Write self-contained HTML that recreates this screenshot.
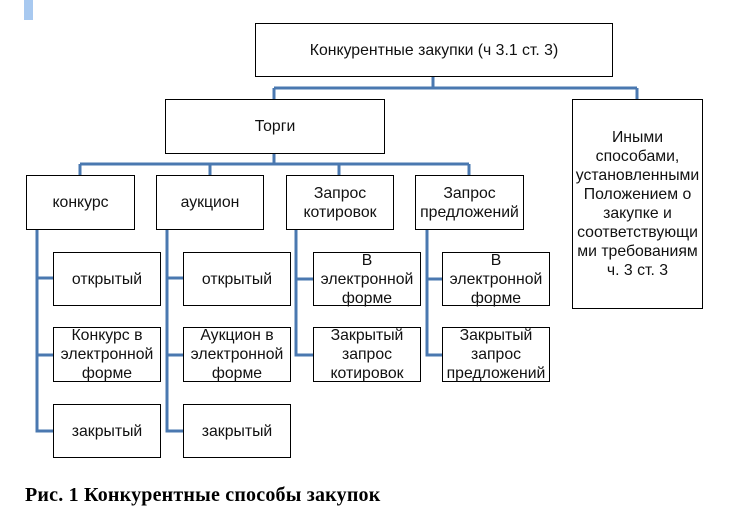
<!DOCTYPE html>
<html><head><meta charset="utf-8">
<style>
html,body{margin:0;padding:0;background:#fff;}
body{width:740px;height:510px;position:relative;overflow:hidden;font-family:"Liberation Sans","Noto Sans CJK SC",sans-serif;}
.b{position:absolute;box-sizing:border-box;border:1px solid #000;background:#fff;display:flex;align-items:center;justify-content:center;text-align:center;font-size:15.8px;line-height:19px;color:#111;white-space:nowrap;}
svg{position:absolute;left:0;top:0;}
.cap{position:absolute;left:25px;top:482px;font-family:"Liberation Serif",serif;font-weight:bold;font-size:20px;letter-spacing:0.2px;line-height:26px;color:#000;white-space:nowrap;}
</style></head><body>
<div style="position:absolute;left:24px;top:0;width:9px;height:20px;background:#a8c9f0;"></div>
<svg width="740" height="510">
<g stroke="#4a78b0" stroke-width="3" fill="none">
<path d="M433 76V88M274 88H637M274 88V99M637 88V99"/>
<path d="M274 153V164M80 164H469M80 164V175M210 164V175M339 164V175M469 164V175"/>
<path d="M37 229V431H53M37 278H53M37 355H53"/>
<path d="M167 229V431H183M167 278H183M167 355H183"/>
<path d="M296 229V355H313M296 279H313"/>
<path d="M427 229V355H442M427 279H442"/>
</g>
</svg>
<div class="b" style="left:255px;top:23px;width:358px;height:54px;">Конкурентные закупки (ч 3.1 ст. 3)</div>
<div class="b" style="left:165px;top:99px;width:220px;height:55px;">Торги</div>
<div class="b" style="left:572px;top:99px;width:131px;height:210px;">Иными<br>способами,<br>установленными<br>Положением о<br>закупке и<br>соответствующи<br>ми требованиям<br>ч. 3 ст. 3</div>

<div class="b" style="left:26px;top:175px;width:109px;height:55px;">конкурс</div>
<div class="b" style="left:156px;top:175px;width:108px;height:55px;">аукцион</div>
<div class="b" style="left:286px;top:175px;width:108px;height:55px;">Запрос<br>котировок</div>
<div class="b" style="left:415px;top:175px;width:109px;height:55px;">Запрос<br>предложений</div>

<div class="b" style="left:53px;top:252px;width:108px;height:54px;">открытый</div>
<div class="b" style="left:53px;top:327px;width:108px;height:55px;">Конкурс в<br>электронной<br>форме</div>
<div class="b" style="left:53px;top:404px;width:108px;height:54px;">закрытый</div>

<div class="b" style="left:183px;top:252px;width:108px;height:54px;">открытый</div>
<div class="b" style="left:183px;top:327px;width:108px;height:55px;">Аукцион в<br>электронной<br>форме</div>
<div class="b" style="left:183px;top:404px;width:108px;height:54px;">закрытый</div>

<div class="b" style="left:313px;top:252px;width:108px;height:54px;">В<br>электронной<br>форме</div>
<div class="b" style="left:313px;top:327px;width:108px;height:55px;">Закрытый<br>запрос<br>котировок</div>

<div class="b" style="left:442px;top:252px;width:108px;height:54px;">В<br>электронной<br>форме</div>
<div class="b" style="left:442px;top:327px;width:108px;height:55px;">Закрытый<br>запрос<br>предложений</div>

<div class="cap">Рис. 1 Конкурентные способы закупок</div>
</body></html>
